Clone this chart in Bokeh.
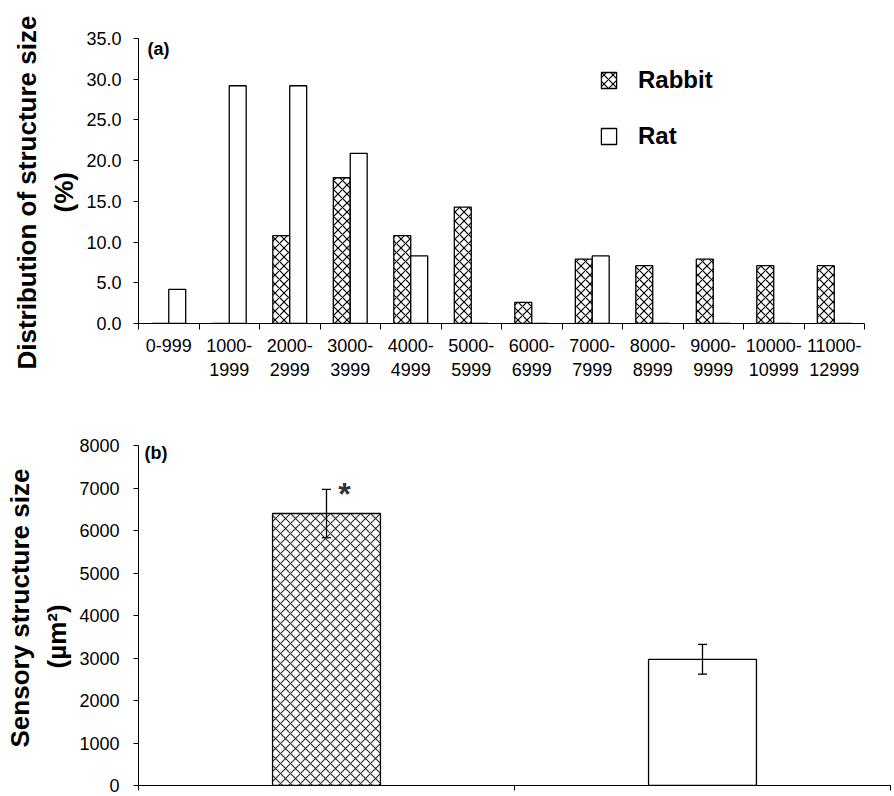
from bokeh.plotting import figure
from bokeh.models import (ColumnDataSource, FixedTicker, LinearAxis, Range1d, Whisker,
                          TeeHead, Label, Legend, LegendItem, NumeralTickFormatter, Title)
from bokeh.layouts import column
from bokeh.transform import dodge
from bokeh.embed import file_html
from bokeh.resources import INLINE

# ---------------- data ----------------
size_bins = ["0-999", "1000-1999", "2000-2999", "3000-3999", "4000-4999", "5000-5999",
             "6000-6999", "7000-7999", "8000-8999", "9000-9999", "10000-10999", "11000-12999"]
bin_tick_labels = ["0-999", "1000-\n1999", "2000-\n2999", "3000-\n3999", "4000-\n4999",
                   "5000-\n5999", "6000-\n6999", "7000-\n7999", "8000-\n8999", "9000-\n9999",
                   "10000-\n10999", "11000-\n12999"]
rabbit_pct = [0.0, 0.0, 10.8, 17.9, 10.8, 14.3, 2.6, 7.9, 7.1, 7.9, 7.1, 7.1]
rat_pct = [4.2, 29.2, 29.2, 20.9, 8.3, 0.0, 0.0, 8.3, 0.0, 0.0, 0.0, 0.0]
pct_ticks = [0, 5, 10, 15, 20, 25, 30, 35]
ylabel_a = ["Distribution of structure size", "(%)"]

species = ["Rabbit", "Rat"]
mean_size = [6400, 2970]
sem_size = [570, 350]
size_ticks = [0, 1000, 2000, 3000, 4000, 5000, 6000, 7000, 8000]
ylabel_b = ["Sensory structure size", "(µm²)"]

FONT = "Liberation Sans"

# ---------------- panel (a) ----------------
n = len(size_bins)
src_a = ColumnDataSource(dict(
    xc=[i + 0.5 for i in range(n)], rabbit=rabbit_pct, rat=rat_pct, name=size_bins))

p1 = figure(frame_width=726, frame_height=285, min_border_left=135, min_border_right=33,
            min_border_top=38, min_border_bottom=80,
            x_range=Range1d(0, n), y_range=Range1d(0, 35), x_axis_type=None,
            output_backend="svg", toolbar_location=None)
p1.outline_line_color = None
p1.grid.visible = False
p1.background_fill_color = "white"

r_rab = p1.vbar(x=dodge("xc", -0.14, range=p1.x_range), top="rabbit", width=0.28, source=src_a,
                fill_color="white", line_color="black", line_width=1.3,
                hatch_pattern="diagonal_cross", hatch_scale=9, hatch_weight=1.2, hatch_color="black")
r_rat = p1.vbar(x=dodge("xc", 0.14, range=p1.x_range), top="rat", width=0.28, source=src_a,
                fill_color="white", line_color="black", line_width=1.3)

yax = p1.yaxis[0]
yax.ticker = FixedTicker(ticks=pct_ticks)
yax.formatter = NumeralTickFormatter(format="0.0")
yax.major_tick_out = 5
yax.major_tick_in = 0
yax.minor_tick_line_color = None
yax.major_label_standoff = 12
yax.major_label_text_font = FONT
yax.major_label_text_font_size = "18px"
yax.major_label_text_color = "black"
yax.axis_line_color = "black"

# y-axis title, two lines (inner line first)
p1.add_layout(Title(text=ylabel_a[1], align="left", offset=111, standoff=10,
                    text_font=FONT, text_font_size="26px", text_font_style="bold",
                    text_color="black"), "left")
p1.add_layout(Title(text=ylabel_a[0], align="left", offset=-46, standoff=0,
                    text_font=FONT, text_font_size="26px", text_font_style="bold",
                    text_color="black"), "left")

# boundary ticks (no labels)
ax_b = LinearAxis(ticker=FixedTicker(ticks=list(range(n + 1))),
                  major_label_overrides={i: "" for i in range(n + 1)},
                  major_label_text_font_size="0px", major_label_standoff=0,
                  major_tick_out=6, major_tick_in=0, minor_tick_line_color=None,
                  axis_line_color="black")
p1.add_layout(ax_b, "below")
# category labels (centred, no ticks)
ax_l = LinearAxis(ticker=FixedTicker(ticks=[i + 0.5 for i in range(n)]),
                  major_label_overrides={i + 0.5: bin_tick_labels[i] for i in range(n)},
                  major_label_text_font=FONT, major_label_text_font_size="18px",
                  major_label_text_color="black", major_label_standoff=6,
                  major_tick_out=0, major_tick_in=0, major_tick_line_color=None,
                  minor_tick_line_color=None, axis_line_color=None)
p1.add_layout(ax_l, "below")

legend = Legend(items=[LegendItem(label=species[0], renderers=[r_rab]),
                       LegendItem(label=species[1], renderers=[r_rat])],
                location=(461, 173), orientation="vertical",
                label_text_font=FONT, label_text_font_size="24px", label_text_font_style="bold",
                label_text_color="black", glyph_width=19, glyph_height=20, label_height=28,
                label_standoff=20, spacing=28, padding=0, margin=0,
                border_line_color=None, background_fill_alpha=0)
p1.add_layout(legend)

p1.add_layout(Label(x=0.15, y=35, text="(a)", text_baseline="top", text_font=FONT,
                    text_font_size="18px", text_font_style="bold", text_color="black"))

# ---------------- panel (b) ----------------
src_b = ColumnDataSource(dict(
    xc=[i + 0.5 for i in range(len(species))], mean=mean_size,
    upper=[m + s for m, s in zip(mean_size, sem_size)],
    lower=[m - s for m, s in zip(mean_size, sem_size)],
    hatch=["diagonal_cross", "blank"], name=species))

p2 = figure(frame_width=752, frame_height=340, min_border_left=138, min_border_right=4,
            min_border_top=42, min_border_bottom=11,
            x_range=Range1d(0, len(species)), y_range=Range1d(0, 8000), x_axis_type=None,
            output_backend="svg", toolbar_location=None)
p2.outline_line_color = None
p2.grid.visible = False

p2.vbar(x="xc", top="mean", width=0.287, source=src_b, fill_color="white",
        line_color="black", line_width=1.3, hatch_pattern="hatch", hatch_scale=10,
        hatch_weight=1.1, hatch_color="#2a2a2a")
p2.add_layout(Whisker(source=src_b, base="xc", upper="upper", lower="lower",
                      level="overlay", line_color="black", line_width=1.3,
                      upper_head=TeeHead(size=9, line_color="black", line_width=1.3),
                      lower_head=TeeHead(size=9, line_color="black", line_width=1.3)))

yb = p2.yaxis[0]
yb.ticker = FixedTicker(ticks=size_ticks)
yb.formatter = NumeralTickFormatter(format="0")
yb.major_tick_out = 5
yb.major_tick_in = 0
yb.minor_tick_line_color = None
yb.major_label_standoff = 14
yb.major_label_text_font = FONT
yb.major_label_text_font_size = "18px"
yb.major_label_text_color = "black"
yb.axis_line_color = "black"

p2.add_layout(Title(text=ylabel_b[1], align="left", offset=117, standoff=10,
                    text_font=FONT, text_font_size="26px", text_font_style="bold",
                    text_color="black"), "left")
p2.add_layout(Title(text=ylabel_b[0], align="left", offset=38, standoff=0,
                    text_font=FONT, text_font_size="26px", text_font_style="bold",
                    text_color="black"), "left")

ax_b2 = LinearAxis(ticker=FixedTicker(ticks=list(range(len(species) + 1))),
                   major_label_overrides={i: "" for i in range(len(species) + 1)},
                   major_label_text_font_size="0px", major_label_standoff=0,
                   major_tick_out=5, major_tick_in=0, minor_tick_line_color=None,
                   axis_line_color="black")
p2.add_layout(ax_b2, "below")

p2.add_layout(Label(x=0.016, y=8000, y_offset=3, text="(b)", text_baseline="top", text_font=FONT,
                    text_font_size="18px", text_font_style="bold", text_color="black"))
p2.add_layout(Label(x=0.548, y=6850, text="*", text_baseline="middle", text_align="center",
                    text_font=FONT, text_font_size="32px", text_font_style="bold",
                    text_color="#333333"))

layout = column(p1, p2)
open("out.html", "w").write(file_html(layout, INLINE))
